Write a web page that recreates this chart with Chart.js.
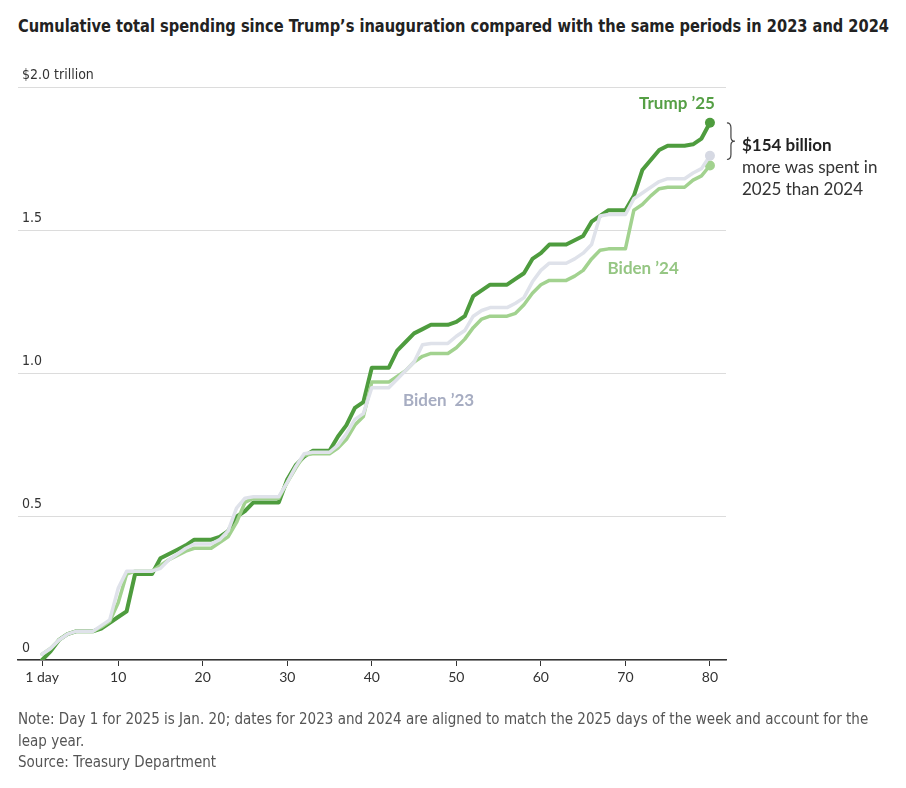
<!DOCTYPE html>
<html>
<head>
<meta charset="utf-8">
<script src="https://cdn.jsdelivr.net/npm/chart.js@4.4.1/dist/chart.umd.min.js"></script>
<style>
  body{margin:0;background:#fff;width:906px;height:788px;overflow:hidden;position:relative;}
  #chart{position:absolute;left:0;top:0;}
  #title{position:absolute;left:18px;top:15px;font:bold 18px "Liberation Sans Narrow","DejaVu Sans Condensed",sans-serif;color:#222;white-space:nowrap;transform-origin:left top;}
  #note{position:absolute;left:18px;top:709px;width:880px;font:15px/21.5px "Liberation Sans Narrow","DejaVu Sans Condensed",sans-serif;color:#555;}
</style>
</head>
<body>
<div id="title">Cumulative total spending since Trump’s inauguration compared with the same periods in 2023 and 2024</div>
<canvas id="chart" width="906" height="788"></canvas>
<div id="note">Note: Day 1 for 2025 is Jan. 20; dates for 2023 and 2024 are aligned to match the 2025 days of the week and account for the leap year.<br>Source: Treasury Department</div>
<script>
// days since inauguration
const days = [1,2,3,4,5,6,7,8,9,10,11,12,13,14,15,16,17,18,19,20,
  21,22,23,24,25,26,27,28,29,30,31,32,33,34,35,36,37,38,39,40,
  41,42,43,44,45,46,47,48,49,50,51,52,53,54,55,56,57,58,59,60,
  61,62,63,64,65,66,67,68,69,70,71,72,73,74,75,76,77,78,79,80];

// cumulative spending, $ trillion
const trump25 = [0,0.03,0.07,0.09,0.10,0.10,0.10,0.11,0.13,0.15,
  0.17,0.30,0.30,0.30,0.355,0.37,0.385,0.40,0.42,0.42,
  0.42,0.43,0.45,0.50,0.52,0.55,0.55,0.55,0.55,0.63,
  0.68,0.71,0.73,0.73,0.73,0.78,0.82,0.88,0.90,1.02,
  1.02,1.02,1.08,1.11,1.14,1.155,1.17,1.17,1.17,1.18,
  1.20,1.27,1.29,1.31,1.31,1.31,1.33,1.35,1.40,1.42,
  1.45,1.45,1.45,1.465,1.48,1.53,1.55,1.57,1.57,1.57,
  1.62,1.71,1.745,1.78,1.795,1.795,1.795,1.80,1.82,1.875];

const biden24 = [0.02,0.04,0.07,0.09,0.10,0.10,0.10,0.115,0.135,0.20,
  0.30,0.31,0.31,0.31,0.33,0.35,0.365,0.38,0.39,0.39,
  0.39,0.41,0.43,0.48,0.55,0.565,0.565,0.565,0.565,0.62,
  0.67,0.715,0.72,0.72,0.72,0.74,0.77,0.82,0.85,0.97,
  0.97,0.97,0.99,1.01,1.04,1.06,1.07,1.07,1.07,1.09,
  1.12,1.16,1.19,1.20,1.20,1.20,1.21,1.24,1.28,1.31,
  1.325,1.325,1.325,1.34,1.36,1.40,1.43,1.435,1.435,1.435,
  1.57,1.59,1.62,1.645,1.65,1.65,1.65,1.675,1.69,1.726];

const biden23 = [0.02,0.04,0.07,0.09,0.10,0.10,0.10,0.12,0.14,0.25,
  0.31,0.31,0.31,0.31,0.32,0.35,0.37,0.39,0.405,0.405,
  0.405,0.42,0.45,0.53,0.565,0.57,0.57,0.57,0.57,0.62,
  0.675,0.72,0.725,0.725,0.725,0.75,0.79,0.84,0.86,0.95,
  0.95,0.95,0.98,1.01,1.04,1.10,1.105,1.105,1.105,1.13,
  1.15,1.20,1.22,1.23,1.23,1.23,1.245,1.265,1.32,1.36,
  1.385,1.385,1.385,1.40,1.42,1.45,1.55,1.555,1.555,1.555,
  1.61,1.63,1.65,1.67,1.68,1.68,1.68,1.70,1.715,1.76];

const xTicks = [1,10,20,30,40,50,60,70,80];
const xTickLabels = ['1 day','10','20','30','40','50','60','70','80'];
const yTicks = [0,0.5,1,1.5,2];
const yTickLabels = ['0','0.5','1.0','1.5','$2.0 trillion'];

const C = {
  trump:'#4e9c3e', trumpText:'#559f45',
  b24:'#a2d28f', b24Text:'#95c683',
  b23:'#dfe2ea', b23Dot:'#d6d9e3', b23Text:'#a7adc2'
};
const last = days.length - 1;

// fit the title to the width it has in the source
const title = document.getElementById('title');
const tw = title.getBoundingClientRect().width;
title.style.transform = `scaleX(${871/tw})`;

function series(vals){ return days.map((d,i)=>({x:d, y:vals[i]})); }
function endDot(ctx){ return ctx.dataIndex===last ? 5 : 0; }

const labelsPlugin = {
  id:'seriesLabels',
  afterDatasetsDraw(chart){
    const {ctx, scales:{x, y}} = chart;
    const xe = x.getPixelForValue(days[last]);
    const yT = y.getPixelForValue(trump25[last]);
    const yB = y.getPixelForValue(biden24[last]);
    ctx.save();
    ctx.textBaseline = 'middle';
    ctx.font = 'bold 17px Lato, "Noto Sans", sans-serif';
    ctx.fillStyle = C.trumpText; ctx.textAlign = 'right';
    ctx.fillText('Trump ’25', xe + 5, yT - 19);
    ctx.fillStyle = C.b24Text; ctx.textAlign = 'center';
    ctx.fillText('Biden ’24', x.getPixelForValue(72.1), y.getPixelForValue(1.368));
    ctx.fillStyle = C.b23Text;
    ctx.fillText('Biden ’23', x.getPixelForValue(47.9), y.getPixelForValue(0.907));

    // brace between the two end points
    const bx = xe + 17, top = yT, bot = yB - 6, mid = (top + bot) / 2;
    ctx.strokeStyle = '#444'; ctx.lineWidth = 1.2;
    ctx.beginPath();
    ctx.moveTo(bx, top);
    ctx.quadraticCurveTo(bx + 4, top, bx + 4, top + 5);
    ctx.lineTo(bx + 4, mid - 4);
    ctx.quadraticCurveTo(bx + 4, mid, bx + 8, mid);
    ctx.quadraticCurveTo(bx + 4, mid, bx + 4, mid + 4);
    ctx.lineTo(bx + 4, bot - 5);
    ctx.quadraticCurveTo(bx + 4, bot, bx, bot);
    ctx.stroke();

    ctx.textAlign = 'left';
    ctx.fillStyle = '#222';
    ctx.font = 'bold 17px Lato, "Noto Sans", sans-serif';
    ctx.fillText('$154 billion', bx + 15, mid + 4);
    ctx.fillStyle = '#333';
    ctx.font = '17px Lato, "Noto Sans", sans-serif';
    ctx.fillText('more was spent in', bx + 15, mid + 26);
    ctx.fillText('2025 than 2024', bx + 15, mid + 48);
    ctx.restore();
  }
};

new Chart(document.getElementById('chart'), {
  type:'line',
  data:{datasets:[
    {label:'Biden ’23', data:series(biden23), borderColor:C.b23, backgroundColor:C.b23Dot, pointRadius:endDot, borderWidth:3.5, pointBorderWidth:0},
    {label:'Biden ’24', data:series(biden24), borderColor:C.b24, backgroundColor:C.b24, pointRadius:endDot, borderWidth:3.5, pointBorderWidth:0},
    {label:'Trump ’25', data:series(trump25), borderColor:C.trump, backgroundColor:C.trump, pointRadius:endDot, borderWidth:4, pointBorderWidth:0}
  ]},
  options:{
    responsive:false, animation:false,
    layout:{padding:{left:18, right:180, top:87, bottom:88}},
    plugins:{legend:{display:false}, tooltip:{enabled:false}},
    elements:{
      line:{tension:0, borderJoinStyle:'round', borderCapStyle:'round'},
      point:{borderWidth:0, hoverRadius:0}
    },
    scales:{
      x:{
        type:'linear', min:-1.85, max:81.9,
        afterBuildTicks:s=>{ s.ticks = xTicks.map(v=>({value:v})); },
        afterFit:s=>{ s.height = 40; },
        ticks:{callback:(v,i)=>xTickLabels[i], autoSkip:false, maxRotation:0, padding:3,
          color:'#333', font:{family:'Lato, "Noto Sans", sans-serif', size:14}},
        grid:{drawOnChartArea:false, drawTicks:true, tickLength:6, color:'#333'},
        border:{display:true, color:'#333', width:1.5}
      },
      y:{
        min:0, max:2,
        afterBuildTicks:s=>{ s.ticks = yTicks.map(v=>({value:v})); },
        afterFit:s=>{ s.width = 0; },
        ticks:{mirror:true, padding:4, labelOffset:-12, callback:(v,i)=>yTickLabels[i],
          color:'#333', font:{family:'"Liberation Sans Narrow","DejaVu Sans Condensed",sans-serif', size:14}},
        grid:{color:'#dcdcdc', drawTicks:false},
        border:{display:false}
      }
    }
  },
  plugins:[labelsPlugin]
});
</script>
</body>
</html>
